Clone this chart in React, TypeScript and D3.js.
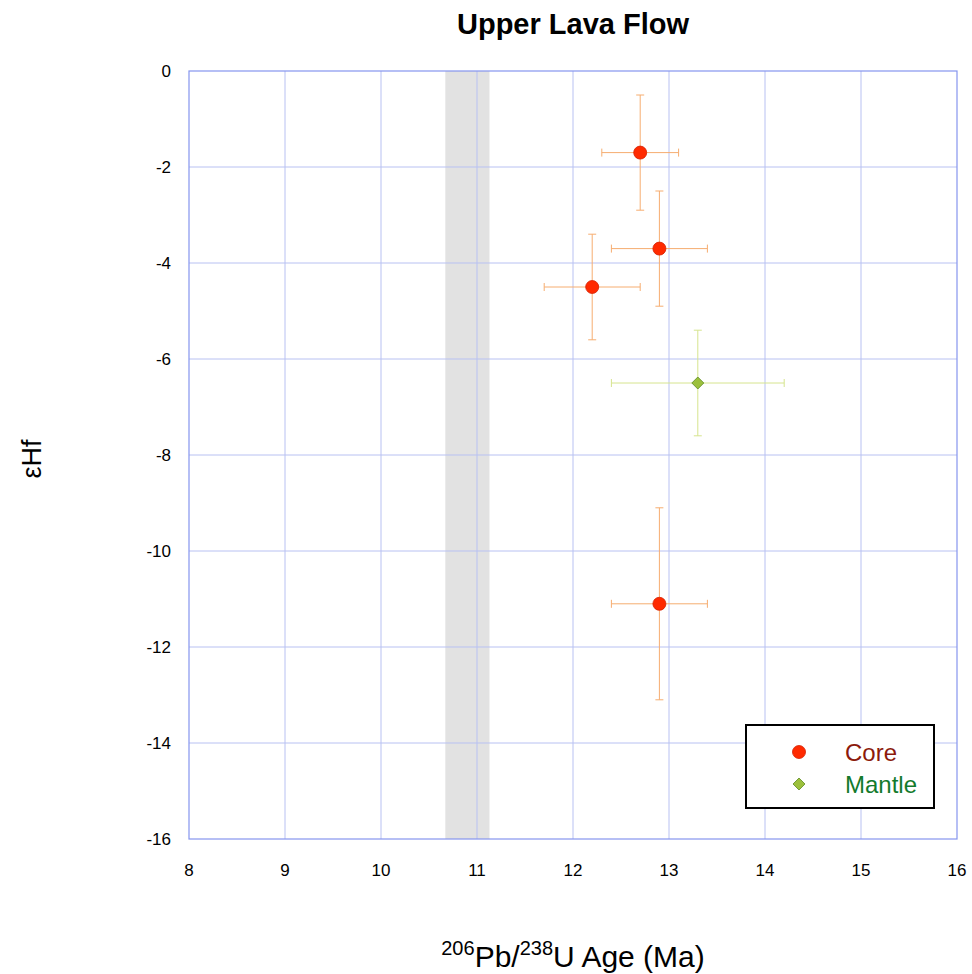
import React from "react";
import { scaleLinear, range } from "d3";

// data
const coreAge = [12.7, 12.9, 12.2, 12.9];
const coreAgeErr = [0.4, 0.5, 0.5, 0.5];
const coreHf = [-1.7, -3.7, -4.5, -11.1];
const coreHfErr = [1.2, 1.2, 1.1, 2.0];

const mantleAge = [13.3];
const mantleAgeErr = [0.9];
const mantleHf = [-6.5];
const mantleHfErr = [1.1];

const band = [10.67, 11.13];
const xTicks = range(8, 17, 1);
const yTicks = range(0, -17, -2);

const W = 972;
const H = 974;
const left = 189;
const right = 957;
const top = 71;
const bottom = 839;

function ErrorBars({ xs, ys, xe, ye, x, y, color }) {
  const cap = 4;
  return (
    <g stroke={color} strokeWidth={1}>
      {xs.map((d, i) => {
        const cx = x(d);
        const cy = y(ys[i]);
        const x0 = x(d - xe[i]);
        const x1 = x(d + xe[i]);
        const y0 = y(ys[i] + ye[i]);
        const y1 = y(ys[i] - ye[i]);
        return (
          <g key={i}>
            <line x1={x0} x2={x1} y1={cy} y2={cy} />
            <line x1={x0} x2={x0} y1={cy - cap} y2={cy + cap} />
            <line x1={x1} x2={x1} y1={cy - cap} y2={cy + cap} />
            <line x1={cx} x2={cx} y1={y0} y2={y1} />
            <line x1={cx - cap} x2={cx + cap} y1={y0} y2={y0} />
            <line x1={cx - cap} x2={cx + cap} y1={y1} y2={y1} />
          </g>
        );
      })}
    </g>
  );
}

function Diamond({ cx, cy, r }) {
  return (
    <path
      d={`M${cx},${cy - r}L${cx + r},${cy}L${cx},${cy + r}L${cx - r},${cy}Z`}
      fill="#9cc03c"
      stroke="#5d8a22"
      strokeWidth={0.8}
    />
  );
}

export default function App() {
  const x = scaleLinear().domain([8, 16]).range([left, right]);
  const y = scaleLinear().domain([0, -16]).range([top, bottom]);
  const font = "Arial, 'Liberation Sans', Helvetica, sans-serif";

  return (
    <svg
      width={W}
      height={H}
      style={{ position: "absolute", left: 0, top: 0, background: "#fff" }}
      fontFamily={font}
    >
      <text x={573} y={34} textAnchor="middle" fontSize={29} fontWeight="bold">
        Upper Lava Flow
      </text>

      <rect
        x={x(band[0])}
        y={top}
        width={x(band[1]) - x(band[0])}
        height={bottom - top}
        fill="#e2e2e2"
      />

      <g stroke="#b8c1f2" strokeWidth={1}>
        {xTicks.slice(1, -1).map((t) => (
          <line key={t} x1={x(t)} x2={x(t)} y1={top} y2={bottom} />
        ))}
        {yTicks.slice(1, -1).map((t) => (
          <line key={t} x1={left} x2={right} y1={y(t)} y2={y(t)} />
        ))}
      </g>
      <rect
        x={left}
        y={top}
        width={right - left}
        height={bottom - top}
        fill="none"
        stroke="#8595ee"
        strokeWidth={1.2}
      />

      <g fontSize={17} fill="#000">
        {xTicks.map((t) => (
          <text key={t} x={x(t)} y={876} textAnchor="middle">
            {t}
          </text>
        ))}
        {yTicks.map((t) => (
          <text key={t} x={171} y={y(t) + 6} textAnchor="end">
            {t === 0 ? "0" : t}
          </text>
        ))}
      </g>

      <ErrorBars
        xs={coreAge}
        ys={coreHf}
        xe={coreAgeErr}
        ye={coreHfErr}
        x={x}
        y={y}
        color="#f6ad70"
      />
      <ErrorBars
        xs={mantleAge}
        ys={mantleHf}
        xe={mantleAgeErr}
        ye={mantleHfErr}
        x={x}
        y={y}
        color="#d6e48e"
      />

      {coreAge.map((d, i) => (
        <circle
          key={i}
          cx={x(d)}
          cy={y(coreHf[i])}
          r={6.5}
          fill="#ff2a00"
          stroke="#d42000"
          strokeWidth={0.8}
        />
      ))}
      {mantleAge.map((d, i) => (
        <Diamond key={i} cx={x(d)} cy={y(mantleHf[i])} r={6} />
      ))}

      <rect x={746} y={725} width={188} height={83} fill="#fff" stroke="#000" strokeWidth={2} />
      <circle cx={799} cy={752} r={6.5} fill="#ff2a00" stroke="#d42000" strokeWidth={0.8} />
      <text x={845} y={761} fontSize={24} fill="#8c1a0c">
        Core
      </text>
      <Diamond cx={799} cy={784} r={6} />
      <text x={845} y={793} fontSize={24} fill="#137a2c">
        Mantle
      </text>

      <text x={573} y={967} textAnchor="middle" fontSize={30}>
        <tspan fontSize={20} dy={-12}>206</tspan>
        <tspan dy={12}>Pb/</tspan>
        <tspan fontSize={20} dy={-12}>238</tspan>
        <tspan dy={12}>U Age (Ma)</tspan>
      </text>

      <text
        transform="translate(41,459) rotate(-90)"
        textAnchor="middle"
        fontSize={27}
      >
        εHf
      </text>
    </svg>
  );
}
